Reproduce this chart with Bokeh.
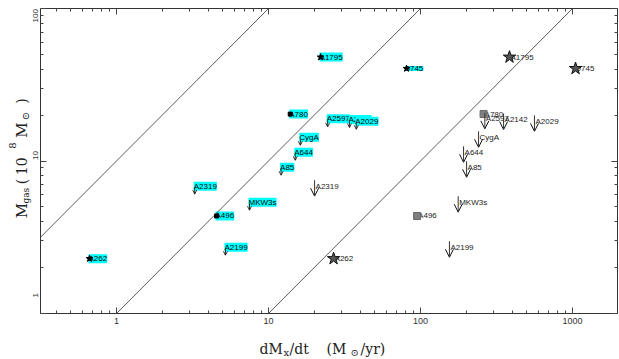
import numpy as np
from bokeh.plotting import figure
from bokeh.layouts import row, column
from bokeh.models import (ColumnDataSource, FixedTicker, CustomJSTickFormatter, LogAxis,
                          LabelSet, Arrow, OpenHead, Range1d)
from bokeh.core.properties import value
from bokeh.embed import file_html
from bokeh.resources import INLINE

# ---------------- data ----------------
names = ["A1795", "0745", "A780", "A2597", "A2142", "A2029", "CygA", "A644", "A85",
         "A2319", "MKW3s", "A496", "A2199", "A262"]
mgas = [48.0, 40.4, 20.3, 18.9, 18.7, 18.2, 14.3, 11.4, 9.1, 6.84, 5.37, 4.36, 2.72, 2.29]
mdot_cyan = [22.0, 80.9, 13.9, 24.5, 34.1, 37.8, 16.2, 15.0, 12.1, 3.27, 7.50, 4.55, 5.21, 0.664]
mdot_black = [385, 1047, 260, 265, 352, 562, 241, 192, 201, 20.1, 177, 95, 155, 26.8]
kind = ["star", "star", "square", "limit", "limit", "limit", "limit", "limit", "limit",
        "limit", "limit", "square", "limit", "star"]
ratios = [10.0, 1.0, 0.1]          # M_gas / (dM/dt) reference lines
x_ticks = [1, 10, 100, 1000]
y_ticks = [1, 10, 100]
y_tick_labels = ["1", "10", "100"]

XR = (10 ** -0.5, 10 ** 3.296)
YR = (1, 100)

# ---------------- layout ----------------
TOTAL_W, TOTAL_H = 619, 359
YT_W = 39                    # left strip: y title + y tick labels
MAIN_W, MAIN_H = TOTAL_W - YT_W, 333
XT_H = TOTAL_H - MAIN_H      # bottom strip: x title
BL, BR, BT, BB = 1, 2, 8, 20
FH = MAIN_H - BT - BB
DEC = np.log10(YR[1]) - np.log10(YR[0])
DPP = DEC / FH               # decades per pixel on y

SERIF = value("DejaVu Serif")
SANS = value("Liberation Sans")

p = figure(width=MAIN_W, height=MAIN_H, x_axis_type="log", y_axis_type="log",
           x_range=XR, y_range=YR, output_backend="svg", toolbar_location=None,
           min_border_left=BL, min_border_right=BR, min_border_top=BT, min_border_bottom=BB,
           background_fill_color="white", border_fill_color="white")
p.grid.visible = False
p.outline_line_color = "#333333"
p.outline_line_width = 1

def minor(decades):
    return [m * 10 ** d for d in decades for m in range(2, 10)]

xminor = [v for v in minor([-1, 0, 1, 2, 3]) if XR[0] < v < XR[1]]
yminor = minor([0, 1])

fmt = CustomJSTickFormatter(code="return tick.toString();")
blank = CustomJSTickFormatter(code="return '';")

def style_axis(ax, ticks, minors, show):
    ax.ticker = FixedTicker(ticks=ticks, minor_ticks=minors)
    ax.major_tick_in = 6
    ax.major_tick_out = 0
    ax.minor_tick_in = 3
    ax.minor_tick_out = 0
    ax.major_tick_line_color = "#444444"
    ax.minor_tick_line_color = "#444444"
    ax.axis_line_color = "#333333"
    if show:
        ax.formatter = fmt
        ax.major_label_text_font = "Liberation Sans"
        ax.major_label_text_color = "#333333"
    else:
        ax.formatter = blank
        ax.major_label_text_font_size = "0px"
        ax.major_label_standoff = 0
        ax.axis_line_color = None

xa = p.xaxis[0]
style_axis(xa, x_ticks, xminor, True)
xa.major_label_text_font_size = "9px"
xa.major_label_standoff = 4

ya = p.yaxis[0]
style_axis(ya, y_ticks, yminor, False)   # labels drawn in the left strip

top = LogAxis()
style_axis(top, x_ticks, xminor, False)
p.add_layout(top, "above")
right = LogAxis()
style_axis(right, y_ticks, yminor, False)
p.add_layout(right, "right")

# ---------------- reference lines ----------------
lx = np.array(XR)
for k in ratios:
    p.line(lx, k * lx, line_color="#333333", line_width=0.8)

# ---------------- point labels (below markers) ----------------
cyan_src = ColumnDataSource(dict(x=mdot_cyan, y=mgas, text=names))
black_src = ColumnDataSource(dict(x=mdot_black, y=mgas, text=names))
p.add_layout(LabelSet(x="x", y="y", text="text", source=cyan_src, level="underlay",
                      text_font=SANS, text_font_size=value("8px"),
                      text_baseline="middle", x_offset=-1, text_color="black",
                      background_fill_color="#00ffff"))
p.add_layout(LabelSet(x="x", y="y", text="text", source=black_src, level="underlay",
                      text_font=SANS, text_font_size=value("8px"),
                      text_baseline="middle", x_offset=1, text_color="#222222"))

def pick(vals, which):
    return [v for v, k in zip(vals, kind) if k == which]

# cyan (small) markers
p.scatter(pick(mdot_cyan, "star"), pick(mgas, "star"), marker="star", size=7,
          fill_color="black", line_color="black")
p.scatter(pick(mdot_cyan, "square"), pick(mgas, "square"), marker="square", size=4,
          fill_color="black", line_color="black")
# black (large) markers
p.scatter(pick(mdot_black, "star"), pick(mgas, "star"), marker="star", size=13,
          fill_color="#555555", line_color="#111111", line_width=1)
p.scatter(pick(mdot_black, "square"), pick(mgas, "square"), marker="square", size=7,
          fill_color="#808080", line_color="#666666")

# upper-limit arrows
def shift(vals, px):
    return [v * 10 ** (px * DPP) for v in vals]

lim_y = pick(mgas, "limit")
cyan_lim = ColumnDataSource(dict(x=pick(mdot_cyan, "limit"), y0=shift(lim_y, -2), y1=shift(lim_y, -8)))
black_lim = ColumnDataSource(dict(x=pick(mdot_black, "limit"), y0=shift(lim_y, 6), y1=shift(lim_y, -10)))
p.add_layout(Arrow(end=OpenHead(size=4, line_color="black", line_width=0.8),
                   x_start="x", y_start="y0", x_end="x", y_end="y1", source=cyan_lim,
                   line_color="black", line_width=0.8))
p.add_layout(Arrow(end=OpenHead(size=8, line_color="#111111", line_width=1),
                   x_start="x", y_start="y0", x_end="x", y_end="y1", source=black_lim,
                   line_color="#333333", line_width=1))

# ---------------- strips for the axis titles ----------------
def strip(w, h, x_range, y_range, y_type="linear"):
    f = figure(width=w, height=h, x_range=x_range, y_range=y_range, y_axis_type=y_type,
               output_backend="svg", toolbar_location=None, min_border=0,
               min_border_left=0, min_border_right=0, min_border_top=0, min_border_bottom=0,
               x_axis_location=None, y_axis_location=None,
               background_fill_color="white", border_fill_color="white")
    f.outline_line_color = None
    f.grid.visible = False
    return f

# left strip shares the main plot's log y scale, extended over the whole strip height
FB = BT + FH                                   # page y of the frame bottom
ylo = 10 ** (np.log10(YR[0]) - (MAIN_H - FB) * DPP)
yhi = 10 ** (np.log10(YR[0]) + FB * DPP)
fy = strip(YT_W, MAIN_H, Range1d(0, YT_W), Range1d(ylo, yhi), "log")

def y_at(page_y):
    return 10 ** (np.log10(YR[0]) + (FB - page_y) * DPP)

# y tick labels (vertical, like the reference)
fy.text(x=[34.5] * len(y_ticks), y=y_ticks, text=y_tick_labels, angle=np.pi / 2,
        text_font=SANS, text_font_size=value("8px"), text_color="#333333",
        text_align="center", text_baseline="alphabetic")

# y title: M_gas (10^8 M_sun), rotated, reading upward
yt = [("M", 21, 229, "15px"), ("gas", 25, 213, "9px"), ("(", 21, 192, "14px"),
      ("10", 21, 182, "14px"), ("8", 12, 153, "10px"), ("M", 21, 141, "15px"),
      ("\u2299", 25, 122, "10px"), (")", 21, 104, "14px")]
fy.text(x=[t[1] for t in yt], y=[y_at(t[2]) for t in yt], text=[t[0] for t in yt],
        text_font_size=[t[3] for t in yt], angle=np.pi / 2, text_font=SERIF,
        text_color="#222222", text_baseline="alphabetic", text_align="left")

# x title: dM_x/dt (M_sun/yr) -- bottom strip, page pixel coordinates
fx = strip(TOTAL_W, XT_H, Range1d(0, TOTAL_W), Range1d(0, XT_H))
xt = [("dM", 259, 348, "14px"), ("x", 283, 352, "10px"), ("/dt", 289, 348, "14px"),
      ("(M", 326, 348, "14px"), ("\u2299", 350, 352, "10px"), ("/yr)", 360, 348, "14px")]
fx.text(x=[t[1] for t in xt], y=[TOTAL_H - t[2] for t in xt], text=[t[0] for t in xt],
        text_font_size=[t[3] for t in xt], text_font=SERIF, text_color="#222222",
        text_baseline="alphabetic", text_align="left")

layout = column(row(fy, p), fx)
open("out.html", "w").write(file_html(layout, INLINE))
